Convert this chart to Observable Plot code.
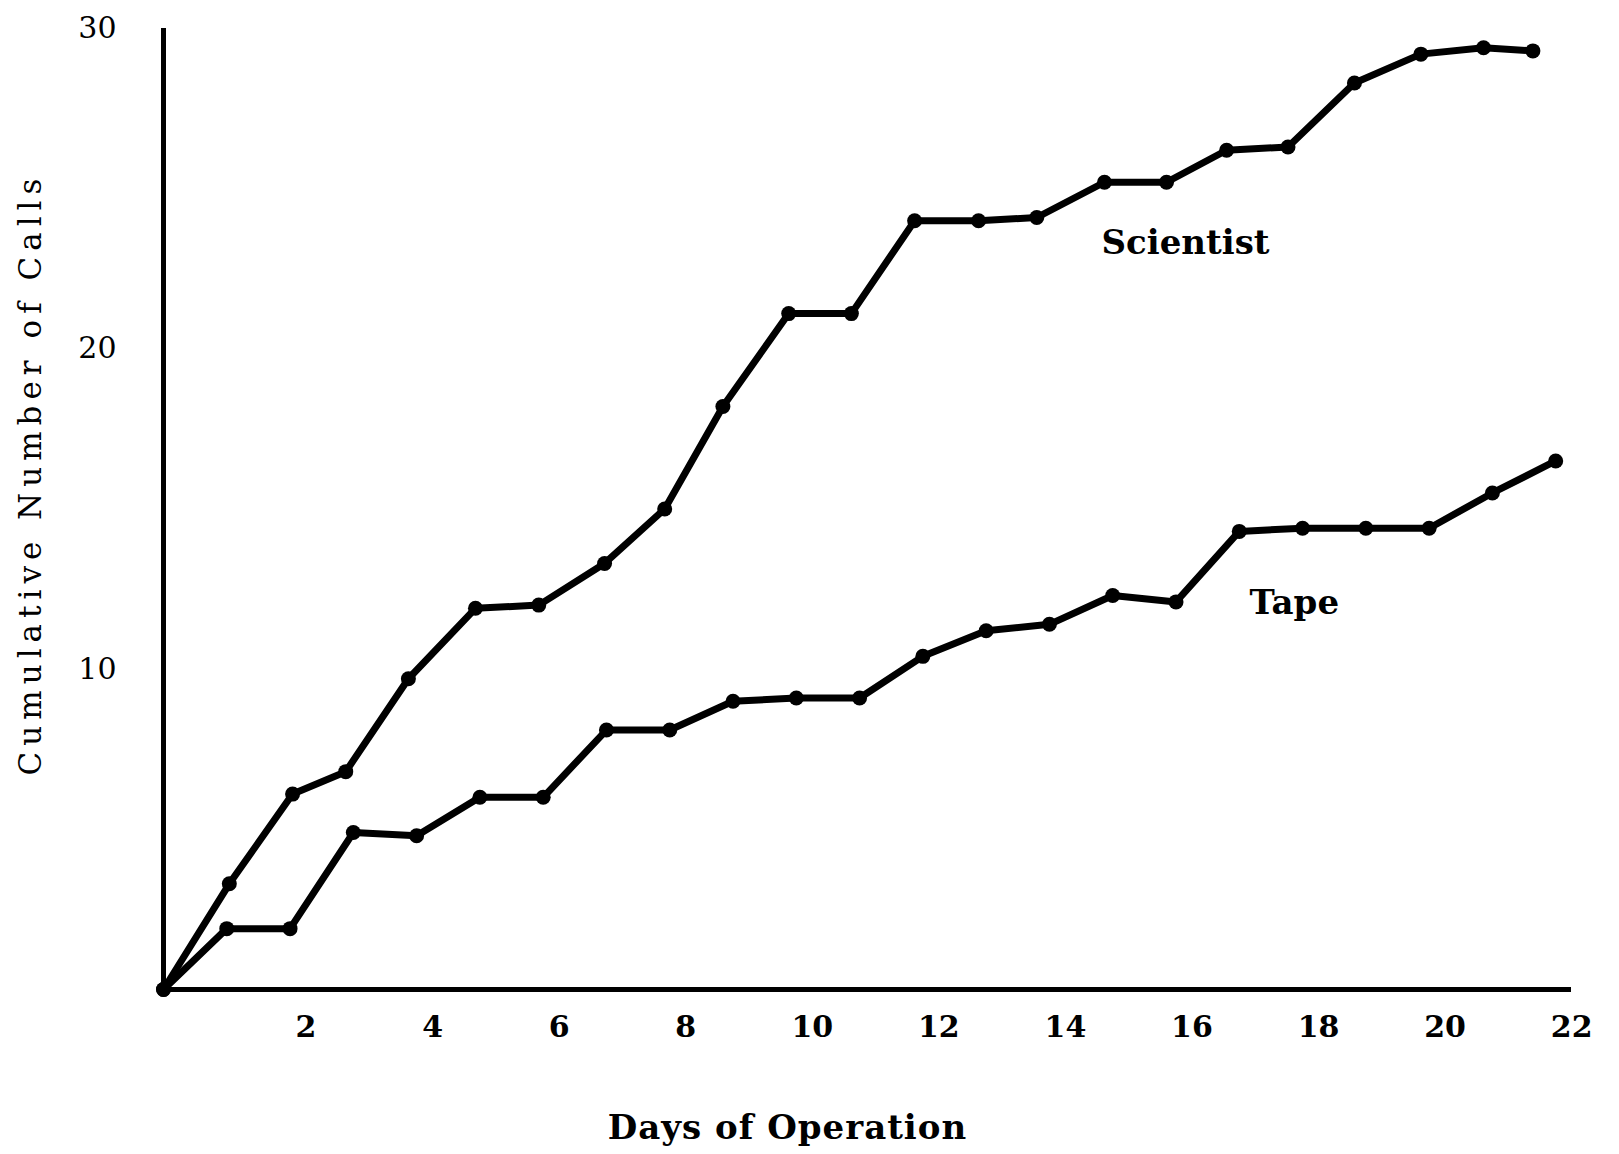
<!DOCTYPE html>
<html>
<head>
<meta charset="utf-8">
<script src="https://cdn.jsdelivr.net/npm/d3@7"></script>
<script src="https://cdn.jsdelivr.net/npm/@observablehq/plot@0.6"></script>
<style>
  html, body { margin: 0; padding: 0; background: #fff; }
  svg { display: block; }
</style>
</head>
<body>
<div id="chart"></div>
<script>
// ---- Data ----
const days = [0,1,2,3,4,5,6,7,8,9,10,11,12,13,14,15,16,17,18,19,20,21,22];
const tapeCalls = [0,1.9,1.9,4.9,4.8,6.0,6.0,8.1,8.1,9.0,9.1,9.1,10.4,11.2,11.4,12.3,12.1,14.3,14.4,14.4,14.4,15.5,16.5];
const scientistDays = [0,1.04,2.04,2.88,3.87,4.93,5.93,6.97,7.92,8.84,9.88,10.87,11.87,12.88,13.8,14.87,15.85,16.8,17.77,18.82,19.87,20.86,21.64];
const scientistCalls = [0,3.3,6.1,6.8,9.7,11.9,12.0,13.3,15.0,18.2,21.1,21.1,24.0,24.0,24.1,25.2,25.2,26.2,26.3,28.3,29.2,29.4,29.3];
const xTicks = [2,4,6,8,10,12,14,16,18,20,22];
const yTicks = [10,20,30];
const xLabel = "Days of Operation";
const yLabel = "Cumulative Number of Calls";
const seriesNames = ["Scientist", "Tape"];

const scientist = scientistDays.map((d, i) => ({day: d, calls: scientistCalls[i]}));
const tape = days.map((d, i) => ({day: d, calls: tapeCalls[i]}));

const font = "DejaVu Serif";

const chart = Plot.plot({
  width: 1619,
  height: 1154,
  marginLeft: 163,
  marginRight: 48,
  marginTop: 28,
  marginBottom: 165,
  style: {background: "#fff", color: "#000", fontFamily: font},
  x: {domain: [0, 22.25]},
  y: {domain: [0, 30]},
  marks: [
    Plot.axisX({ticks: xTicks, tickSize: 0, tickPadding: 26, dx: 16, fontSize: 30, fontWeight: "bold", label: null, tickFormat: d => String(d)}),
    Plot.axisY({ticks: yTicks, tickSize: 0, tickPadding: 47, fontSize: 30, label: null, tickFormat: d => String(d)}),
    Plot.ruleX([0], {stroke: "#000", strokeWidth: 5}),
    Plot.ruleY([0], {stroke: "#000", strokeWidth: 5}),
    Plot.line(scientist, {x: "day", y: "calls", stroke: "#000", strokeWidth: 7, strokeLinejoin: "round", strokeLinecap: "round"}),
    Plot.dot(scientist, {x: "day", y: "calls", r: 7.5, fill: "#000"}),
    Plot.line(tape, {x: "day", y: "calls", stroke: "#000", strokeWidth: 7, strokeLinejoin: "round", strokeLinecap: "round"}),
    Plot.dot(tape, {x: "day", y: "calls", r: 7.5, fill: "#000"}),
    Plot.text([scientist[15]], {x: "day", y: "calls", text: () => seriesNames[0], dx: 81, dy: 61, fontSize: 34, fontWeight: "bold", fill: "#000"}),
    Plot.text([tape[17]], {x: "day", y: "calls", text: () => seriesNames[1], dx: 55, dy: 72, fontSize: 34, fontWeight: "bold", fill: "#000"}),
    Plot.text([xLabel], {frameAnchor: "bottom", textAnchor: "middle", lineAnchor: "middle", dx: -80, dy: 139, fontSize: 34, fontWeight: "bold", fill: "#000"}),
    Plot.text([yLabel], {frameAnchor: "left", textAnchor: "middle", lineAnchor: "middle", rotate: -90, dx: -132, dy: -35, fontSize: 31, fill: "#000"})
  ]
});

d3.select(chart).selectAll("text")
  .filter(function() { return this.textContent === yLabel; })
  .attr("letter-spacing", 6);
d3.select(chart).selectAll("text")
  .filter(function() { return this.textContent === xLabel; })
  .attr("letter-spacing", 1);

document.getElementById("chart").appendChild(chart);
</script>
</body>
</html>
